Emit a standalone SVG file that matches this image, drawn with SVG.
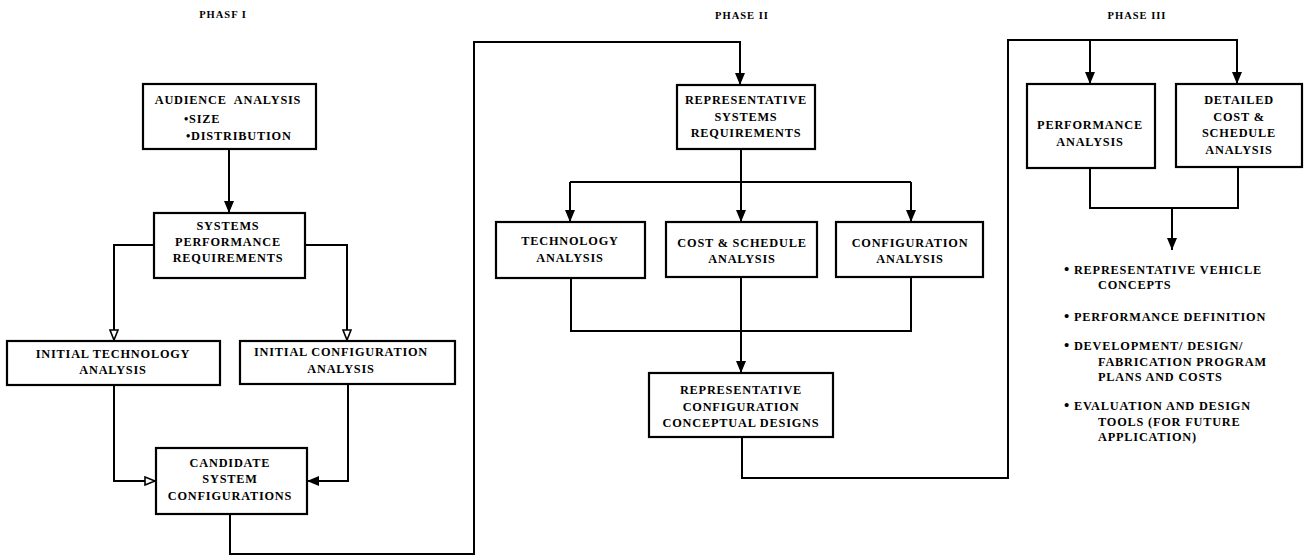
<svg xmlns="http://www.w3.org/2000/svg" width="1305" height="556" viewBox="0 0 1305 556">
<style>
.box{fill:#fff;stroke:#000;stroke-width:2.2}
.t{font-family:"Liberation Serif","DejaVu Serif",serif;font-weight:bold;font-size:12.3px;letter-spacing:0.8px;fill:#000;text-anchor:middle;white-space:pre}
.l{text-anchor:start}
.ph{font-size:10.5px;letter-spacing:1px}
.b{font-size:15px}
.c{fill:none;stroke:#000;stroke-width:2}
</style>
<defs>
<marker id="af" viewBox="0 0 12 10" refX="12" refY="5" markerWidth="13" markerHeight="10" markerUnits="userSpaceOnUse" orient="auto">
<path d="M0,0 L12,5 L0,10 z" fill="#000"/>
</marker>
<marker id="ao" viewBox="0 0 12 10" refX="12" refY="5" markerWidth="13" markerHeight="10" markerUnits="userSpaceOnUse" orient="auto">
<path d="M1,1 L11,5 L1,9 z" fill="#fff" stroke="#000" stroke-width="1.6"/>
</marker>
</defs>
<rect width="1305" height="556" fill="#fff"/>

<g id="labels">
<text class="t ph" x="223" y="18">PHASF I</text>
<text class="t ph" x="742" y="19">PHASE II</text>
<text class="t ph" x="1137" y="19">PHASE III</text>
</g>

<g id="connectors">
<path class="c" d="M229,149 V213" marker-end="url(#af)"/>
<path class="c" d="M154,245 H114 V341" marker-end="url(#ao)"/>
<path class="c" d="M305,245 H347 V341" marker-end="url(#ao)"/>
<path class="c" d="M114,385 V481 H156" marker-end="url(#ao)"/>
<path class="c" d="M348,384 V481 H307" marker-end="url(#af)"/>
<path class="c" d="M230,514 V554 H474 V42 H740 V85" marker-end="url(#af)"/>
<path class="c" d="M741,149 V222" marker-end="url(#af)"/>
<path class="c" d="M570,182 H911"/>
<path class="c" d="M570,182 V222" marker-end="url(#af)"/>
<path class="c" d="M911,182 V222" marker-end="url(#af)"/>
<path class="c" d="M571,278 V331 H911 V277"/>
<path class="c" d="M741,277 V373" marker-end="url(#af)"/>
<path class="c" d="M742,437 V478 H1008 V40 H1237 V84" marker-end="url(#af)"/>
<path class="c" d="M1090,40 V84" marker-end="url(#af)"/>
<path class="c" d="M1090,168 V208 H1238 V167"/>
<path class="c" d="M1172,208 V250" marker-end="url(#af)"/>
</g>

<g id="audience">
<rect class="box" x="143" y="84" width="173" height="65"/>
<text class="t" x="228" y="104">AUDIENCE  ANALYSIS</text>
<text class="t l" x="184" y="123">•SIZE</text>
<text class="t l" x="186" y="140">•DISTRIBUTION</text>
</g>

<g id="sysperf">
<rect class="box" x="154" y="213" width="151" height="65"/>
<text class="t" x="228" y="230">SYSTEMS</text>
<text class="t" x="228" y="246">PERFORMANCE</text>
<text class="t" x="228" y="262">REQUIREMENTS</text>
</g>

<g id="inittech">
<rect class="box" x="7" y="341" width="213" height="44"/>
<text class="t" x="113" y="358">INITIAL TECHNOLOGY</text>
<text class="t" x="113" y="374">ANALYSIS</text>
</g>

<g id="initconfig">
<rect class="box" x="240" y="341" width="215" height="43"/>
<text class="t" x="341" y="356">INITIAL CONFIGURATION</text>
<text class="t" x="341" y="373">ANALYSIS</text>
</g>

<g id="candidate">
<rect class="box" x="156" y="448" width="151" height="66"/>
<text class="t" x="230" y="467">CANDIDATE</text>
<text class="t" x="230" y="483">SYSTEM</text>
<text class="t" x="230" y="500">CONFIGURATIONS</text>
</g>

<g id="repsys">
<rect class="box" x="677" y="85" width="138" height="64"/>
<text class="t" x="746" y="104">REPRESENTATIVE</text>
<text class="t" x="746" y="121">SYSTEMS</text>
<text class="t" x="746" y="137">REQUIREMENTS</text>
</g>

<g id="tech">
<rect class="box" x="496" y="222" width="149" height="56"/>
<text class="t" x="570" y="245">TECHNOLOGY</text>
<text class="t" x="570" y="262">ANALYSIS</text>
</g>

<g id="cost">
<rect class="box" x="666" y="222" width="151" height="55"/>
<text class="t" x="742" y="247">COST &amp; SCHEDULE</text>
<text class="t" x="742" y="263">ANALYSIS</text>
</g>

<g id="config">
<rect class="box" x="836" y="222" width="147" height="55"/>
<text class="t" x="910" y="247">CONFIGURATION</text>
<text class="t" x="910" y="263">ANALYSIS</text>
</g>

<g id="repconfig">
<rect class="box" x="649" y="373" width="184" height="64"/>
<text class="t" x="741" y="394">REPRESENTATIVE</text>
<text class="t" x="741" y="411">CONFIGURATION</text>
<text class="t" x="741" y="427">CONCEPTUAL DESIGNS</text>
</g>

<g id="perf">
<rect class="box" x="1027" y="84" width="128" height="84"/>
<text class="t" x="1090" y="129">PERFORMANCE</text>
<text class="t" x="1090" y="146">ANALYSIS</text>
</g>

<g id="detail">
<rect class="box" x="1176" y="84" width="126" height="83"/>
<text class="t" x="1239" y="104">DETAILED</text>
<text class="t" x="1239" y="121">COST &amp;</text>
<text class="t" x="1239" y="137">SCHEDULE</text>
<text class="t" x="1239" y="154">ANALYSIS</text>
</g>

<g id="outputs">
<text class="t l" x="1064" y="274"><tspan class="b">•</tspan> REPRESENTATIVE VEHICLE</text>
<text class="t l" x="1098" y="289">CONCEPTS</text>
<text class="t l" x="1064" y="321"><tspan class="b">•</tspan> PERFORMANCE DEFINITION</text>
<text class="t l" x="1064" y="350"><tspan class="b">•</tspan> DEVELOPMENT/ DESIGN/</text>
<text class="t l" x="1098" y="366">FABRICATION PROGRAM</text>
<text class="t l" x="1098" y="381">PLANS AND COSTS</text>
<text class="t l" x="1064" y="410"><tspan class="b">•</tspan> EVALUATION AND DESIGN</text>
<text class="t l" x="1098" y="426">TOOLS (FOR FUTURE</text>
<text class="t l" x="1098" y="441">APPLICATION)</text>
</g>
</svg>
